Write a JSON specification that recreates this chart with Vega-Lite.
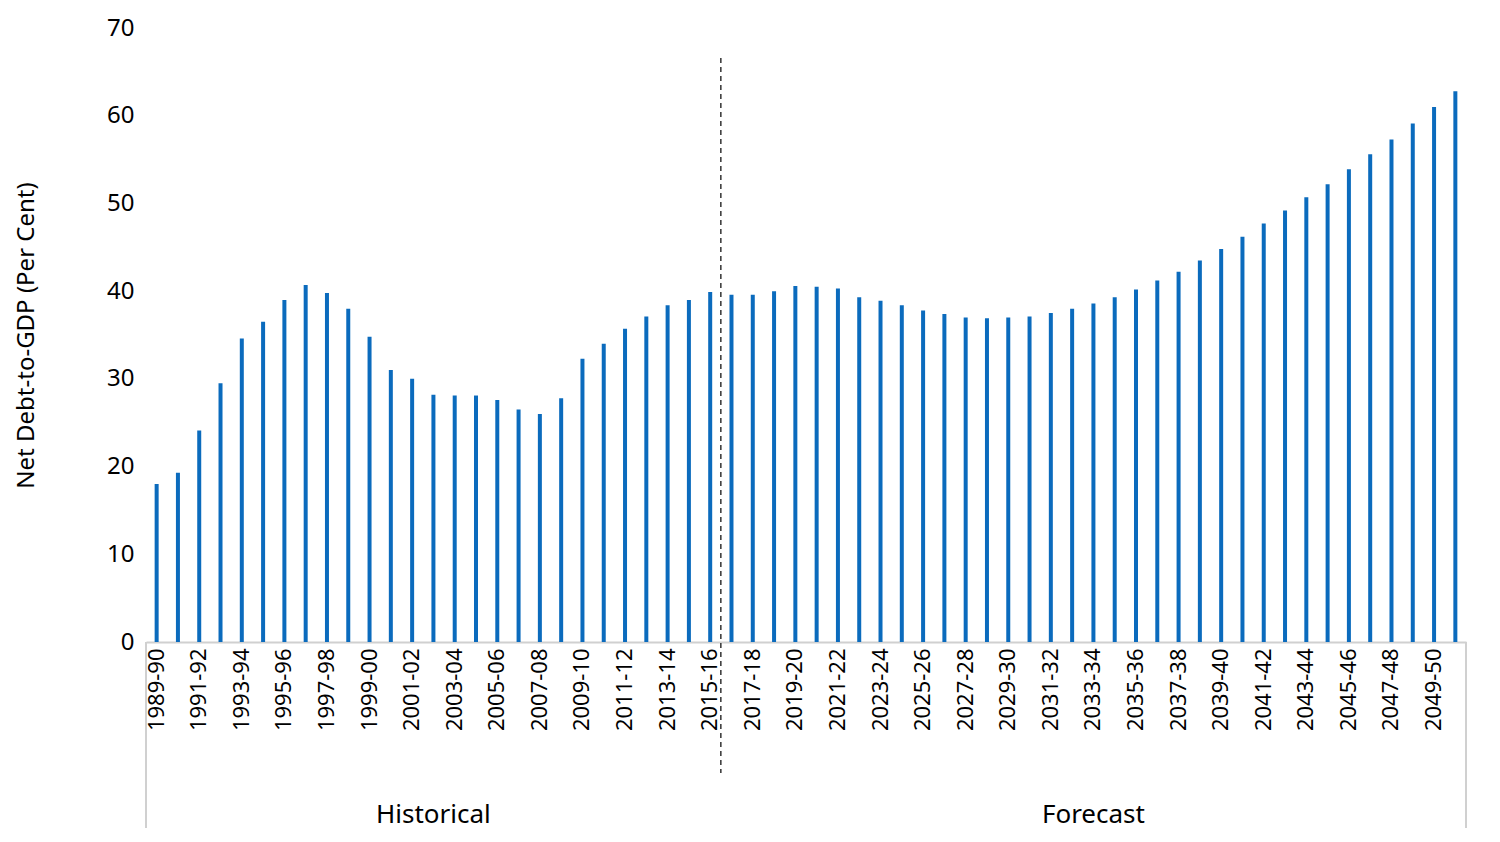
{
  "$schema": "https://vega.github.io/schema/vega-lite/v6.json",
  "width": 1320,
  "height": 614,
  "autosize": "none",
  "padding": {"left": 146, "top": 28, "right": 34, "bottom": 200},
  "config": {"font": "Noto Sans", "view": {"stroke": null}},
  "data": {"values": [
    {"year": "1989-90", "debt": 18.0}, {"year": "1990-91", "debt": 19.3}, {"year": "1991-92", "debt": 24.1},
    {"year": "1992-93", "debt": 29.5}, {"year": "1993-94", "debt": 34.6}, {"year": "1994-95", "debt": 36.5},
    {"year": "1995-96", "debt": 39.0}, {"year": "1996-97", "debt": 40.7}, {"year": "1997-98", "debt": 39.8},
    {"year": "1998-99", "debt": 38.0}, {"year": "1999-00", "debt": 34.8}, {"year": "2000-01", "debt": 31.0},
    {"year": "2001-02", "debt": 30.0}, {"year": "2002-03", "debt": 28.2}, {"year": "2003-04", "debt": 28.1},
    {"year": "2004-05", "debt": 28.1}, {"year": "2005-06", "debt": 27.6}, {"year": "2006-07", "debt": 26.5},
    {"year": "2007-08", "debt": 26.0}, {"year": "2008-09", "debt": 27.8}, {"year": "2009-10", "debt": 32.3},
    {"year": "2010-11", "debt": 34.0}, {"year": "2011-12", "debt": 35.7}, {"year": "2012-13", "debt": 37.1},
    {"year": "2013-14", "debt": 38.4}, {"year": "2014-15", "debt": 39.0}, {"year": "2015-16", "debt": 39.9},
    {"year": "2016-17", "debt": 39.6}, {"year": "2017-18", "debt": 39.6}, {"year": "2018-19", "debt": 40.0},
    {"year": "2019-20", "debt": 40.6}, {"year": "2020-21", "debt": 40.5}, {"year": "2021-22", "debt": 40.3},
    {"year": "2022-23", "debt": 39.3}, {"year": "2023-24", "debt": 38.9}, {"year": "2024-25", "debt": 38.4},
    {"year": "2025-26", "debt": 37.8}, {"year": "2026-27", "debt": 37.4}, {"year": "2027-28", "debt": 37.0},
    {"year": "2028-29", "debt": 36.9}, {"year": "2029-30", "debt": 37.0}, {"year": "2030-31", "debt": 37.1},
    {"year": "2031-32", "debt": 37.5}, {"year": "2032-33", "debt": 38.0}, {"year": "2033-34", "debt": 38.6},
    {"year": "2034-35", "debt": 39.3}, {"year": "2035-36", "debt": 40.2}, {"year": "2036-37", "debt": 41.2},
    {"year": "2037-38", "debt": 42.2}, {"year": "2038-39", "debt": 43.5}, {"year": "2039-40", "debt": 44.8},
    {"year": "2040-41", "debt": 46.2}, {"year": "2041-42", "debt": 47.7}, {"year": "2042-43", "debt": 49.2},
    {"year": "2043-44", "debt": 50.7}, {"year": "2044-45", "debt": 52.2}, {"year": "2045-46", "debt": 53.9},
    {"year": "2046-47", "debt": 55.6}, {"year": "2047-48", "debt": 57.3}, {"year": "2048-49", "debt": 59.1},
    {"year": "2049-50", "debt": 61.0}, {"year": "2050-51", "debt": 62.8}
  ]},
  "encoding": {
    "x": {
      "field": "year", "type": "ordinal", "title": null, "sort": null,
      "scale": {"paddingInner": 0, "paddingOuter": 0},
      "axis": {
        "labelAngle": -90, "labelFontSize": 22, "labelColor": "#000", "labelPadding": 6,
        "ticks": false, "domainColor": "#d0d0d0", "domainWidth": 2,
        "labelExpr": "toNumber(substring(datum.value, 0, 4)) % 2 == 1 ? datum.value : ''"
      }
    }
  },
  "layer": [
    {
      "mark": {"type": "bar", "size": 4, "color": "#0b6bbd"},
      "encoding": {
        "y": {
          "field": "debt", "type": "quantitative", "title": "Net Debt-to-GDP (Per Cent)",
          "scale": {"domain": [0, 70]},
          "axis": {"grid": false, "domain": false, "ticks": false, "tickCount": 7,
            "labelFontSize": 24, "labelColor": "#000", "labelPadding": 12,
            "titleFontSize": 24, "titleFontWeight": "normal", "titleColor": "#000", "titlePadding": 68}
        }
      }
    },
    {
      "data": {"values": [{"year": "2015-16"}]},
      "mark": {"type": "rule", "strokeDash": [5, 4], "color": "#333", "strokeWidth": 1.5},
      "encoding": {
        "x": {"field": "year", "type": "ordinal", "sort": null, "bandPosition": 1},
        "y": {"value": 30}, "y2": {"value": 745}
      }
    },
    {
      "data": {"values": [{"year": "1989-90"}]},
      "mark": {"type": "rule", "color": "#d0d0d0", "strokeWidth": 2},
      "encoding": {
        "x": {"field": "year", "type": "ordinal", "sort": null, "bandPosition": 0},
        "y": {"value": 614}, "y2": {"value": 800}
      }
    },
    {
      "data": {"values": [{"year": "2050-51"}]},
      "mark": {"type": "rule", "color": "#d0d0d0", "strokeWidth": 2},
      "encoding": {
        "x": {"field": "year", "type": "ordinal", "sort": null, "bandPosition": 1},
        "y": {"value": 614}, "y2": {"value": 800}
      }
    },
    {
      "data": {"values": [{"year": "2002-03", "label": "Historical"}, {"year": "2033-34", "label": "Forecast"}]},
      "mark": {"type": "text", "fontSize": 26, "color": "#000", "baseline": "middle"},
      "encoding": {
        "x": {"field": "year", "type": "ordinal", "sort": null},
        "y": {"value": 787},
        "text": {"field": "label"}
      }
    }
  ]
}
